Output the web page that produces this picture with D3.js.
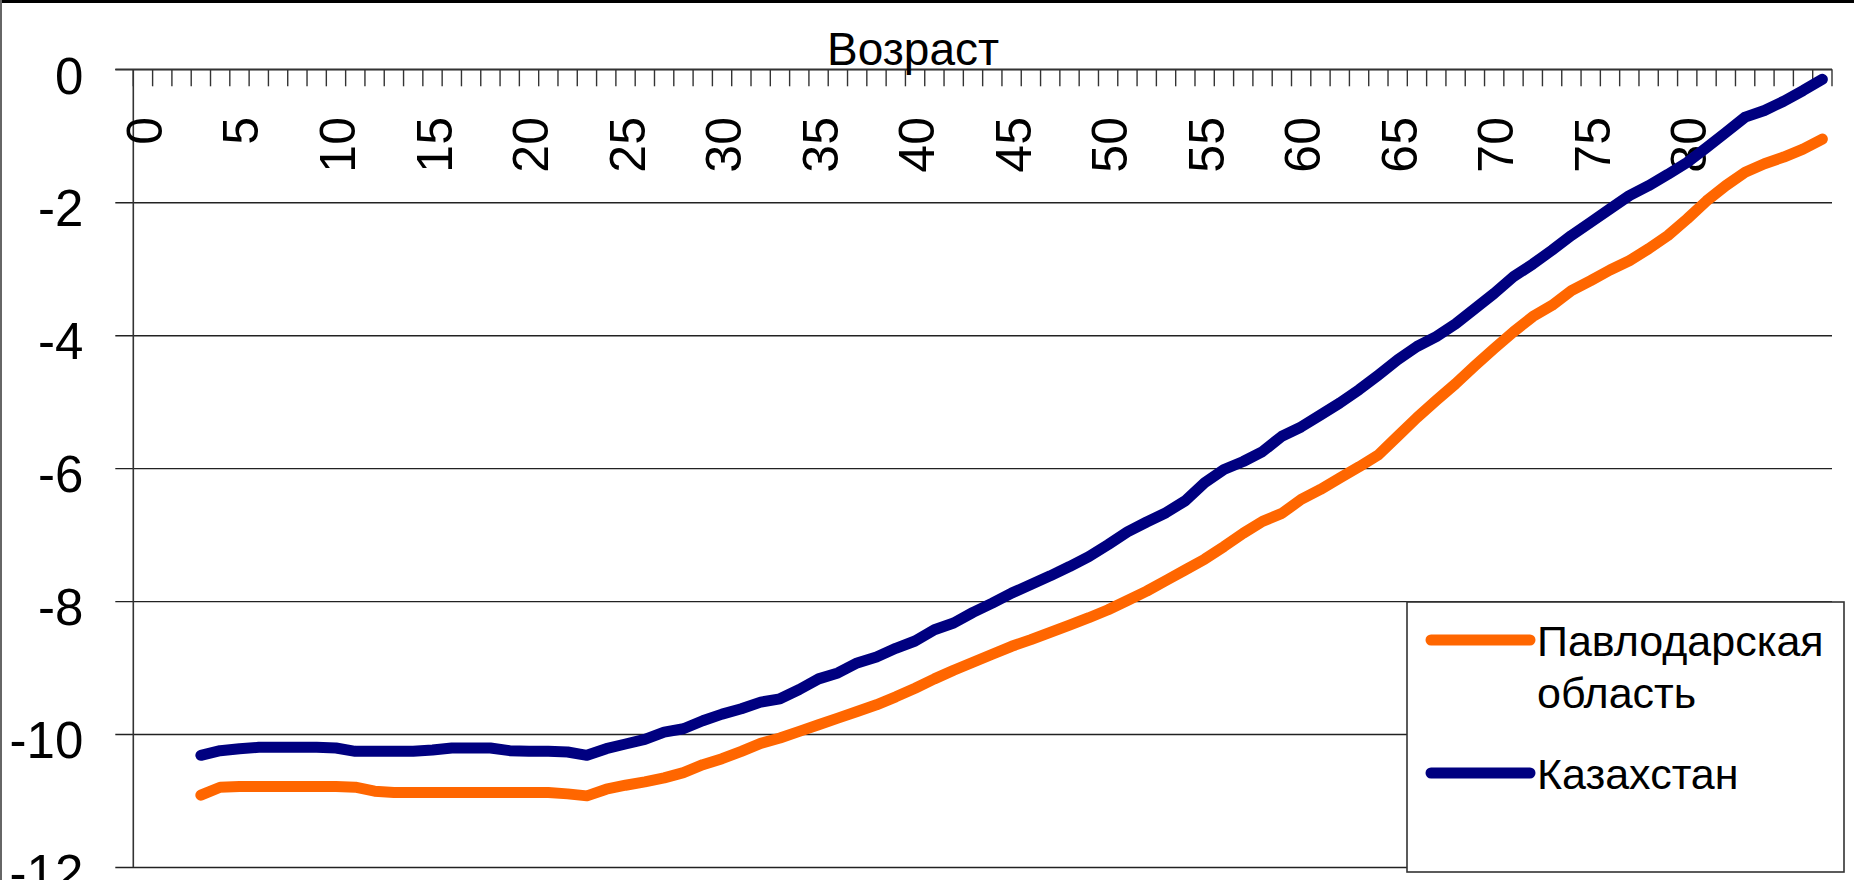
<!DOCTYPE html>
<html>
<head>
<meta charset="utf-8">
<script src="https://cdn.jsdelivr.net/npm/d3@7/dist/d3.min.js"></script>
<style>
html,body{margin:0;padding:0;background:#fff;}
svg{display:block;}
text{font-family:"Liberation Sans",Arial,sans-serif;fill:#000;}
</style>
</head>
<body>
<svg id="chart" width="1854" height="880"></svg>
<script>
// ---- data ----
const axisCategories = [0,1,2,3,4,5,6,7,8,9,10,11,12,13,14,15,16,17,18,19,20,21,22,23,24,25,26,27,28,29,30,31,32,33,34,35,36,37,38,39,40,41,42,43,44,45,46,47,48,49,50,51,52,53,54,55,56,57,58,59,60,61,62,63,64,65,66,67,68,69,70,71,72,73,74,75,76,77,78,79,80,81,82,83,84,85,86,87];
const xTickLabels = [0,5,10,15,20,25,30,35,40,45,50,55,60,65,70,75,80];
const yTickValues = [0,-2,-4,-6,-8,-10,-12];
const ages = [3,4,5,6,7,8,9,10,11,12,13,14,15,16,17,18,19,20,21,22,23,24,25,26,27,28,29,30,31,32,33,34,35,36,37,38,39,40,41,42,43,44,45,46,47,48,49,50,51,52,53,54,55,56,57,58,59,60,61,62,63,64,65,66,67,68,69,70,71,72,73,74,75,76,77,78,79,80,81,82,83,84,85,86,87];
const pavlodar = [
 -10.92,-10.80,-10.79,-10.79,-10.79,-10.79,-10.79,-10.79,-10.80,-10.86,
 -10.88,-10.88,-10.88,-10.88,-10.88,-10.88,-10.88,-10.88,-10.88,-10.90,
 -10.93,-10.83,-10.77,-10.72,-10.66,-10.58,-10.46,-10.37,-10.26,-10.14,
 -10.06,-9.96,-9.86,-9.76,-9.66,-9.56,-9.44,-9.31,-9.17,-9.04,
 -8.92,-8.80,-8.68,-8.58,-8.47,-8.36,-8.25,-8.13,-7.99,-7.85,
 -7.69,-7.53,-7.37,-7.18,-6.98,-6.80,-6.68,-6.47,-6.32,-6.15,
 -5.98,-5.80,-5.52,-5.24,-4.98,-4.73,-4.46,-4.20,-3.95,-3.72,
 -3.55,-3.33,-3.18,-3.02,-2.88,-2.70,-2.50,-2.25,-1.98,-1.75,
 -1.55,-1.42,-1.32,-1.20,-1.05];
const kazakhstan = [
 -10.32,-10.25,-10.22,-10.20,-10.20,-10.20,-10.20,-10.21,-10.26,-10.26,
 -10.26,-10.26,-10.24,-10.21,-10.21,-10.21,-10.25,-10.26,-10.26,-10.27,
 -10.32,-10.22,-10.15,-10.08,-9.97,-9.92,-9.80,-9.70,-9.62,-9.52,
 -9.47,-9.33,-9.17,-9.08,-8.93,-8.84,-8.71,-8.60,-8.43,-8.33,
 -8.17,-8.03,-7.88,-7.75,-7.62,-7.48,-7.33,-7.15,-6.96,-6.81,
 -6.67,-6.49,-6.22,-6.02,-5.90,-5.75,-5.52,-5.38,-5.20,-5.02,
 -4.82,-4.60,-4.37,-4.17,-4.02,-3.83,-3.60,-3.37,-3.12,-2.93,
 -2.72,-2.50,-2.30,-2.10,-1.90,-1.75,-1.58,-1.40,-1.18,-0.95,
 -0.72,-0.62,-0.48,-0.32,-0.15];
const seriesNames = ["Павлодарская область","Казахстан"];
const seriesColors = ["#FF6600","#000080"];
const axisTitle = "Возраст";

// ---- layout ----
const svg = d3.select("#chart");
const L = 133.3, R = 1832, T = 69.3, B = 867;

const x = d3.scaleBand().domain(axisCategories).range([L, R]).padding(0);
const y = d3.scaleLinear().domain([-12, 0]).range([B, T]);
const bw = x.bandwidth();

// frame
svg.append("rect").attr("x",0).attr("y",0).attr("width",1854).attr("height",3).attr("fill","#000");
svg.append("rect").attr("x",0).attr("y",0).attr("width",2).attr("height",880).attr("fill","#666");

// gridlines + y axis via d3.axisLeft
const yAxis = d3.axisLeft(y).tickValues(yTickValues).tickSize(-(R - L)).tickFormat(d => String(d)).tickPadding(0);
const gy = svg.append("g").attr("transform", `translate(${L},0)`).call(yAxis);
gy.select(".domain").remove();
gy.selectAll(".tick line").attr("x1", -18).attr("stroke", "#222").attr("stroke-width", 1.4);
gy.selectAll(".tick text").attr("x", -50).attr("dy", "0.72em").attr("y", -13)
  .style("font-size", "51px").attr("text-anchor", "end").attr("fill", "#000");
// y axis line
svg.append("line").attr("x1", L).attr("x2", L).attr("y1", T).attr("y2", B)
  .attr("stroke", "#333").attr("stroke-width", 1.6);

// x axis at top (value 0) with category ticks pointing down
const tickPos = axisCategories.map(c => x(c)).concat([x(axisCategories[axisCategories.length-1]) + bw]);
svg.append("g").selectAll("line").data(tickPos).join("line")
  .attr("x1", d => d).attr("x2", d => d).attr("y1", y(0)).attr("y2", y(0) + 17)
  .attr("stroke", "#333").attr("stroke-width", 1.4);
svg.append("line").attr("x1", L - 18).attr("x2", R).attr("y1", y(0)).attr("y2", y(0))
  .attr("stroke", "#333").attr("stroke-width", 1.6);

// rotated x labels
svg.append("g").selectAll("text").data(xTickLabels).join("text")
  .attr("transform", d => `translate(${x(d) + bw/2 + 1},117) rotate(-90)`)
  .attr("text-anchor", "end").attr("dy", "0.36em")
  .style("font-size", "50px").text(d => d);

// axis title
svg.append("text").attr("x", 913).attr("y", 65).attr("text-anchor", "middle")
  .style("font-size", "46px").text(axisTitle);

// series lines
const line = d3.line().x(d => x(d[0]) + bw/2).y(d => y(d[1]));
[pavlodar, kazakhstan].forEach((vals, i) => {
  svg.append("path").datum(ages.map((a, j) => [a, vals[j]]))
    .attr("d", line).attr("fill", "none").attr("stroke", seriesColors[i])
    .attr("stroke-width", 11).attr("stroke-linejoin", "round").attr("stroke-linecap", "round");
});

// legend
const lg = svg.append("g");
lg.append("rect").attr("x", 1407).attr("y", 602).attr("width", 437).attr("height", 270)
  .attr("fill", "#fff").attr("stroke", "#333").attr("stroke-width", 1.6);
const legendRows = [
  {color: seriesColors[0], ly: 640, lines: ["Павлодарская", "область"], ty: 656},
  {color: seriesColors[1], ly: 773, lines: ["Казахстан"], ty: 789}
];
legendRows.forEach(r => {
  lg.append("line").attr("x1", 1431).attr("x2", 1530).attr("y1", r.ly).attr("y2", r.ly)
    .attr("stroke", r.color).attr("stroke-width", 11).attr("stroke-linecap", "round");
  r.lines.forEach((t, k) => {
    lg.append("text").attr("x", 1537).attr("y", r.ty + k * 52).style("font-size", "43px").text(t);
  });
});
</script>
</body>
</html>
